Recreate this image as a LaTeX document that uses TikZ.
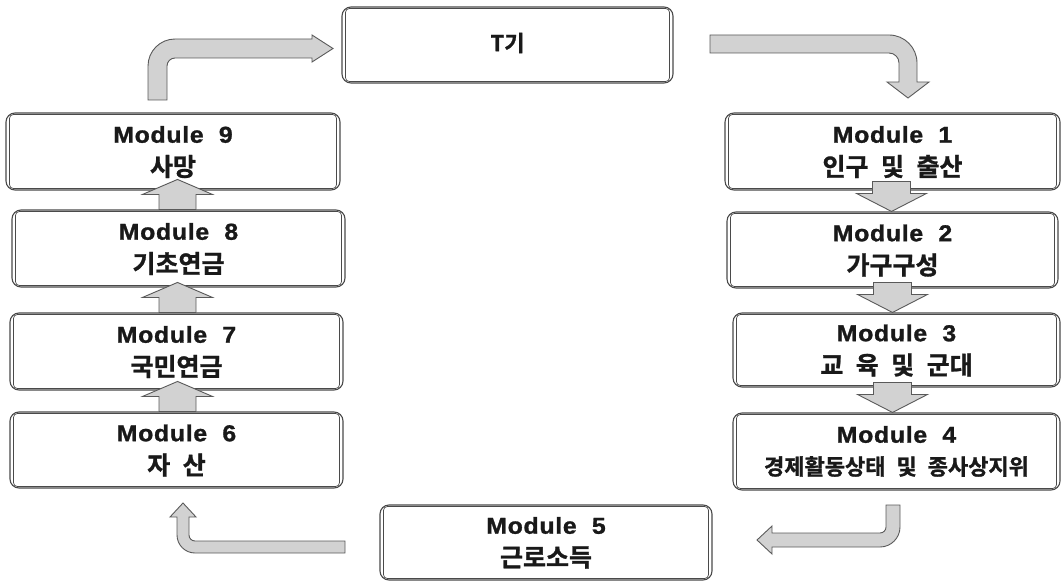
\documentclass[tikz,border=0pt]{standalone}
\usepackage{fontspec}
\setmainfont{Liberation Sans}
\newfontfamily\modfont[LetterSpace=3,FakeStretch=1.08,FakeBold=1.2]{Liberation Sans Bold}
\newfontfamily\krfont[WordSpace=2.2,FakeBold=1.2]{Noto Sans CJK KR Bold}
\usetikzlibrary{calc}
\definecolor{boxline}{HTML}{4A4A4A}
\definecolor{arrfill}{HTML}{D2D2D2}
\definecolor{arrline}{HTML}{5A5A5A}
\tikzset{
  modbox/.style={draw=boxline, line width=1.1pt, rounded corners=9pt, fill=white, inner sep=0pt},
  innerbox/.style={draw=boxline, line width=0.7pt, rounded corners=4pt},
  modtxt/.style={font=\modfont\fontsize{23}{26}\selectfont, inner sep=0pt, text=black!90},
  krtxt/.style={font=\krfont\fontsize{25}{28}\selectfont, inner sep=0pt, text=black!90},
  blk/.style={draw=arrline, fill=arrfill, line width=0.9pt, line join=miter},
  uparr/.pic={\draw[blk] (-18.5,0) -- (-18.5,-15) -- (-35,-15) -- (0,-30) -- (35,-15) -- (18.5,-15) -- (18.5,0) -- cycle;},
  downarr/.pic={\draw[blk] (-19,-30) -- (-19,-18) -- (-35,-18) -- (0,0) -- (35,-18) -- (19,-18) -- (19,-30) -- cycle;}
}
\begin{document}
\begin{tikzpicture}[x=1pt,y=-1pt]
\useasboundingbox (0,0) rectangle (1062,583);
% boxes
\node[modbox, minimum width=331, minimum height=76] (t) at (507.5,45) {};
\node[modbox, minimum width=334, minimum height=77] (m9) at (173,151.5) {};
\node[modbox, minimum width=333, minimum height=77] (m8) at (178.5,248.5) {};
\node[modbox, minimum width=333, minimum height=77] (m7) at (176.5,351.5) {};
\node[modbox, minimum width=333, minimum height=76] (m6) at (176.5,450) {};
\node[modbox, minimum width=332, minimum height=75] (m5) at (546,542.5) {};
\node[modbox, minimum width=335, minimum height=77] (m1) at (892.5,151.5) {};
\node[modbox, minimum width=331, minimum height=76] (m2) at (892.5,250) {};
\node[modbox, minimum width=327, minimum height=74] (m3) at (896.5,350) {};
\node[modbox, minimum width=327, minimum height=77] (m4) at (896.5,451.5) {};
\foreach \n in {t,m9,m8,m7,m6,m5,m1,m2,m3,m4}
  \draw[innerbox] ([xshift=4pt,yshift=-2pt]\n.north west) rectangle ([xshift=-4pt,yshift=2pt]\n.south east);
% texts
\node[font=\krfont\fontsize{22}{24}\selectfont, inner sep=0pt, text=black!90] (tt) at ([yshift=2pt]t.center) {T기};
\foreach \n/\num/\kr in {m9/9/사망, m8/8/기초연금, m7/7/국민연금, m6/6/자 산, m5/5/근로소득, m1/1/인구 및 출산, m2/2/가구구성, m3/3/교 육 및 군대}{
  \node[modtxt] (\n a) at ([yshift=17pt]\n.center) {Module~~\num};
  \node[krtxt] (\n b) at ([yshift=-15pt]\n.center) {\kr};
}
\node[modtxt] (m4a) at ([yshift=17pt]m4.center) {Module~~4};
\node[krtxt, font=\krfont\fontsize{22}{24}\selectfont] (m4b) at ([yshift=-15pt]m4.center) {경제활동상태~및 종사상지위};
% straight block arrows
\pic at ([xshift=-1pt]m8.north) {uparr};
\pic at ([xshift=1pt]m7.north) {uparr};
\pic at ([xshift=1pt]m6.north) {uparr};
\pic at ([xshift=-1pt]m2.north) {downarr};
\pic at ([xshift=-4pt]m3.north) {downarr};
\pic at ([xshift=-4pt]m4.north) {downarr};
% bent block arrows
\draw[blk] (148,100) -- (148,66) .. controls +(0,-14.9) and +(-14.9,0) .. (175,39) -- (312,39) -- (312,35) -- (333,48.5) -- (312,62) -- (312,58) -- (175,58) .. controls +(-4.4,0) and +(0,-4.4) .. (167,66) -- (167,100) -- cycle;
\draw[blk] (710,35) -- (889,35) .. controls +(15.5,0) and +(0,-15.5) .. (917,63) -- (917,82) -- (929,82) -- (908,98) -- (887,82) -- (899,82) -- (899,63) .. controls +(0,-5.5) and +(5.5,0) .. (889,53) -- (710,53) -- cycle;
\draw[blk] (886,505) -- (900,505) -- (900,527) .. controls +(0,11) and +(11,0) .. (880,547) -- (772,547) -- (772,554) -- (757,540) -- (772,526) -- (772,533) -- (880,533) .. controls +(3.3,0) and +(0,3.3) .. (886,527) -- cycle;
\draw[blk] (345,553) -- (195,553) .. controls +(-9.9,0) and +(0,9.9) .. (177,535) -- (177,517) -- (170,517) -- (183,503) -- (196,517) -- (189,517) -- (189,535) .. controls +(0,3.3) and +(-3.3,0) .. (195,541) -- (345,541) -- cycle;
\end{tikzpicture}
\end{document}
